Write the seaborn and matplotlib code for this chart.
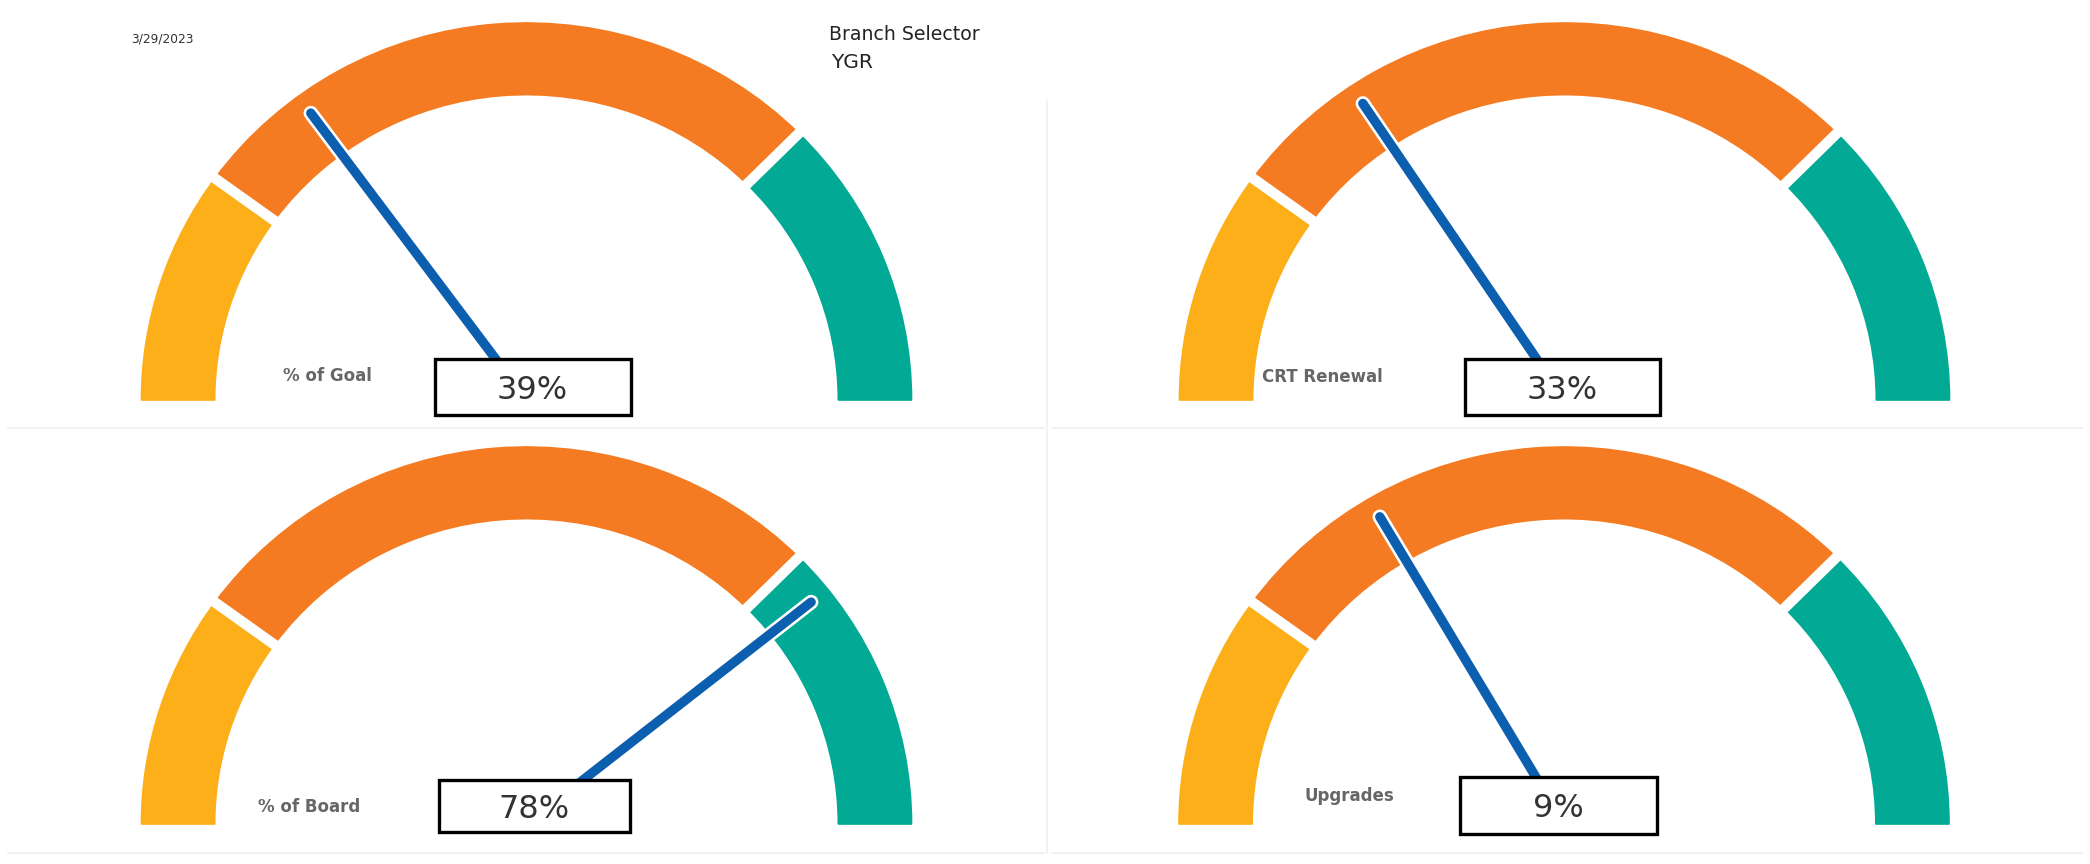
import numpy as np
import seaborn as sns
import matplotlib.pyplot as plt
from matplotlib.patches import Wedge, Rectangle

# gauge data
gauge_titles = ["% of Goal", "CRT Renewal", "% of Board", "Upgrades"]
gauge_values = [39, 33, 78, 9]              # value shown in the box (%)
needle_values = [0.298, 0.313, 0.786, 0.331]  # needle position (share of dial)
band_edges = [0.0, 0.20, 0.75, 1.0]
band_colors = ["#FDAF19", "#F47B21", "#02AA96"]

report_date = "3/29/2023"
selector_title = "Branch Selector"
selector_value = "YGR"

W, H = 2090, 864
RX, RY = 385.0, 377.0   # pixels per dial unit
# layout in pixels: gauge centre, box (x0, x1, y0, y1 offsets), label position
centres = [(526.5, 400), (1564.5, 400), (526.5, 824), (1564, 824)]
boxes = [(-92, 104, -41, 15), (-100, 95, -41, 15), (-88, 103, -44, 8), (-104, 93, -47, 10)]
label_pos = [(-243.5, 24), (-302.5, 23), (-268.5, 17), (-259, 28)]

sns.set_theme(style="white")
plt.rcParams['font.family'] = ['DejaVu Sans']

fig = plt.figure(figsize=(W / 100, H / 100), dpi=100)
fig.patch.set_facecolor("white")

# faint panel borders
bg = fig.add_axes([0, 0, 1, 1], zorder=-1)
bg.set_xlim(0, W)
bg.set_ylim(H, 0)
bg.axis("off")
for y in (428, 853):
    bg.plot([8, 1044], [y, y], color="#F1F1F1", lw=1.5)
    bg.plot([1052, 2082], [y, y], color="#F1F1F1", lw=1.5)
bg.plot([1047, 1047], [100, 853], color="#F3F3F3", lw=1.5)

for i, (cx, cy) in enumerate(centres):
    ax = fig.add_axes([(cx - 520) / W, (H - (cy + 30)) / H, 1040 / W, 430 / H])
    ax.set_xlim(-520 / RX, 520 / RX)
    ax.set_ylim(-30 / RY, 400 / RY)
    ax.axis("off")

    # coloured bands
    for lo, hi, col in zip(band_edges[:-1], band_edges[1:], band_colors):
        th1, th2 = 180 * (1 - hi), 180 * (1 - lo)
        ax.add_patch(Wedge((0, 0), 1.0, th1, th2, width=0.19, facecolor=col,
                           edgecolor=col, lw=1.2, joinstyle="round", zorder=1))
    # white gaps between bands
    for b in band_edges[1:-1]:
        a = np.pi * (1 - b)
        ax.plot([0.75 * np.cos(a), 1.05 * np.cos(a)], [0.75 * np.sin(a), 1.05 * np.sin(a)],
                color="white", lw=7.5, zorder=2)

    # needle
    a = np.pi * (1 - needle_values[i])
    nx, ny = [0, 0.945 * np.cos(a)], [0, 0.945 * np.sin(a)]
    ax.plot(nx, ny, color="white", lw=10.5, solid_capstyle="round", zorder=3)
    ax.plot(nx, ny, color="#0C5EAF", lw=6.8, solid_capstyle="round", zorder=4)

    # value box
    x0, x1, y0, y1 = boxes[i]
    ax.add_patch(Rectangle((x0 / RX, -y1 / RY), (x1 - x0) / RX, (y1 - y0) / RY,
                           facecolor="white", edgecolor="black", lw=2.4, zorder=5))
    ax.text((x0 + x1) / 2 / RX, -((y0 + y1) / 2 + 3) / RY, f"{gauge_values[i]}%",
            ha="center", va="center", fontsize=23, color="#333333", zorder=6)

    lx, ly = label_pos[i]
    ax.text(lx / RX, ly / RY, gauge_titles[i], ha="left", va="center",
            fontsize=12, fontweight="bold", color="#666666", zorder=6)

fig.text(131.5 / W, 1 - 39 / H, report_date, ha="left", va="center", fontsize=8.8, color="#333333")
fig.text(829 / W, 1 - 34 / H, selector_title, ha="left", va="center", fontsize=13.6, color="#252423")
fig.text(831 / W, 1 - 63 / H, selector_value, ha="left", va="center", fontsize=14.6, color="#252423")

fig.savefig("out.png", dpi=100, facecolor="white")
